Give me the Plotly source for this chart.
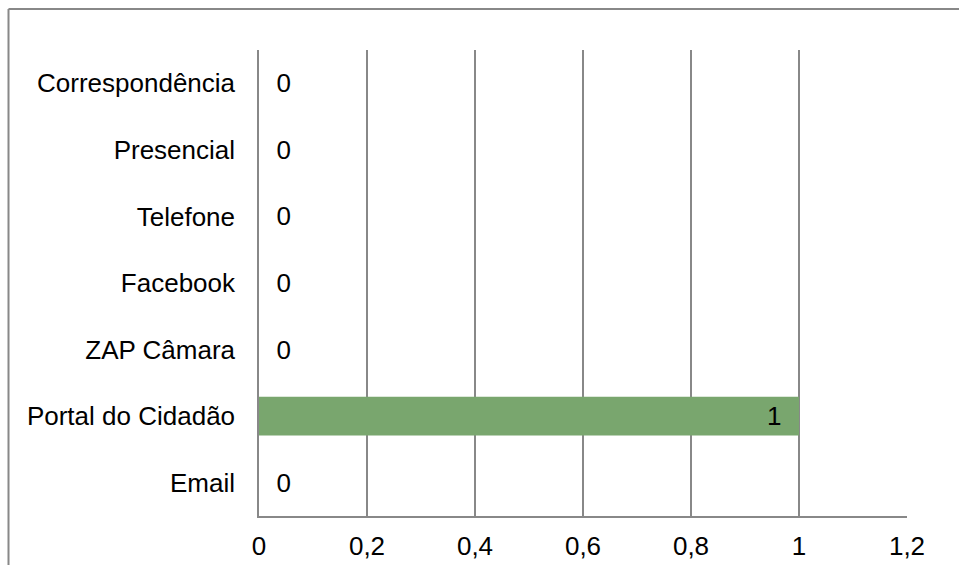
import plotly.graph_objects as go

categories = ["Email", "Portal do Cidadão", "ZAP Câmara", "Facebook", "Telefone", "Presencial", "Correspondência"]
values = [0, 1, 0, 0, 0, 0, 0]
x_ticks = [0, 0.2, 0.4, 0.6, 0.8, 1.0, 1.2]

W, H = 959, 565
L, R, T, B = 259, 52, 50, 49
pw, ph = W - L - R, H - T - B

font = dict(family="Liberation Sans, Arial, sans-serif", size=26, color="#000000")
NB = "\u00a0"

labels = [(NB * 2 + str(v)) if v == 0 else (str(v) + NB * 2) for v in values]

fig = go.Figure(go.Bar(
    y=categories, x=values, orientation="h",
    marker=dict(color="#79A66E", line=dict(width=0)),
    width=0.58,
    text=labels,
    textposition=["outside" if v == 0 else "inside" for v in values],
    insidetextanchor="end",
    textfont=font, insidetextfont=font, outsidetextfont=font,
    constraintext="none",
    cliponaxis=False,
    hoverinfo="skip",
))

# outer chart frame: only top and left edges are within view
fx0 = (8.5 - L) / pw
fy1 = 1 + (T - 9) / ph
fig.add_shape(type="line", xref="paper", yref="paper",
              x0=fx0, x1=(W - L) / pw, y0=fy1, y1=fy1,
              line=dict(color="#888888", width=2), layer="below")
fig.add_shape(type="line", xref="paper", yref="paper",
              x0=fx0, x1=fx0, y0=-B / ph, y1=fy1,
              line=dict(color="#888888", width=2), layer="below")

fig.update_layout(
    width=W, height=H,
    margin=dict(l=L, r=R, t=T, b=B, autoexpand=False),
    paper_bgcolor="white", plot_bgcolor="white",
    separators=",.",
    font=font,
    showlegend=False,
    xaxis=dict(range=[0, 1.2], tickvals=x_ticks, showgrid=True, gridcolor="#888888", gridwidth=1.5,
               zeroline=False, showline=True, linecolor="#888888", linewidth=1.5,
               ticks="outside", ticklen=6, tickcolor="rgba(0,0,0,0)", tickfont=font, mirror=False),
    yaxis=dict(showgrid=False, zeroline=False, showline=True, linecolor="#888888", linewidth=1.5,
               ticks="outside", ticklen=17, tickcolor="rgba(0,0,0,0)", tickfont=font,
               categoryorder="array", categoryarray=categories),
)

fig.write_html(
    "out.html",
    config={"displayModeBar": False},
    post_script="document.body.style.margin='0';document.body.style.overflow='hidden';"
                "document.documentElement.style.overflow='hidden';",
)
